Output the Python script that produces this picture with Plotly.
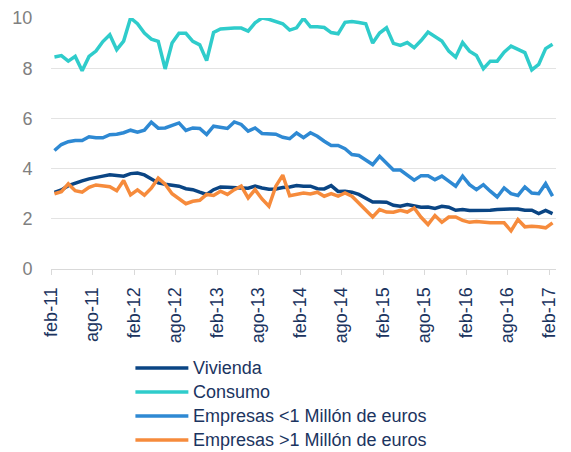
import plotly.graph_objects as go

# monthly series feb-11 .. feb-17 (73 months)
vivienda = [3.05, 3.15, 3.32, 3.43, 3.51, 3.59, 3.66, 3.70, 3.75, 3.74, 3.70, 3.80, 3.82, 3.75, 3.57, 3.43, 3.38, 3.33,
            3.30, 3.20, 3.16, 3.06, 2.97, 3.16, 3.27, 3.26, 3.23, 3.23, 3.22, 3.30, 3.23, 3.18, 3.19, 3.25, 3.27, 3.33,
            3.30, 3.30, 3.20, 3.19, 3.32, 3.09, 3.10, 3.06, 2.97, 2.82, 2.67, 2.67, 2.66, 2.54, 2.50, 2.57, 2.53, 2.46,
            2.47, 2.41, 2.50, 2.46, 2.34, 2.37, 2.33, 2.33, 2.33, 2.34, 2.37, 2.39, 2.39, 2.39, 2.34, 2.34, 2.21, 2.33, 2.21]
consumo = [8.45, 8.50, 8.28, 8.47, 7.90, 8.47, 8.68, 9.06, 9.33, 8.74, 9.08, 10.0, 9.77, 9.40, 9.16, 9.07, 7.97, 9.00,
           9.39, 9.39, 9.07, 8.93, 8.30, 9.42, 9.56, 9.59, 9.60, 9.60, 9.48, 9.81, 10.0, 9.95, 9.86, 9.77, 9.52, 9.61,
           9.99, 9.65, 9.65, 9.62, 9.42, 9.37, 9.83, 9.86, 9.82, 9.77, 9.00, 9.40, 9.61, 8.99, 8.91, 9.02, 8.82, 9.10,
           9.44, 9.26, 9.08, 8.68, 8.44, 9.02, 8.68, 8.51, 7.98, 8.28, 8.28, 8.64, 8.88, 8.75, 8.62, 7.93, 8.15, 8.78, 8.95]
empresas_menor = [4.72, 4.96, 5.07, 5.12, 5.12, 5.27, 5.23, 5.23, 5.35, 5.37, 5.43, 5.53, 5.45, 5.53, 5.85, 5.61, 5.62, 5.72,
                  5.82, 5.52, 5.62, 5.60, 5.36, 5.69, 5.66, 5.60, 5.86, 5.76, 5.49, 5.62, 5.40, 5.37, 5.37, 5.25, 5.19, 5.42,
                  5.23, 5.43, 5.29, 5.09, 4.92, 4.92, 4.79, 4.56, 4.52, 4.34, 4.16, 4.49, 4.20, 3.94, 3.94, 3.76, 3.54, 3.72,
                  3.72, 3.56, 3.70, 3.50, 3.30, 3.70, 3.36, 3.16, 3.36, 3.10, 2.87, 3.23, 3.00, 2.93, 3.27, 3.03, 3.00, 3.40, 2.90]
empresas_mayor = [3.00, 3.08, 3.39, 3.12, 3.06, 3.25, 3.35, 3.30, 3.28, 3.12, 3.53, 2.95, 3.15, 2.94, 3.22, 3.62, 3.38, 3.00,
                  2.78, 2.60, 2.70, 2.74, 2.97, 2.93, 3.10, 2.97, 3.16, 3.30, 2.83, 3.16, 2.79, 2.50, 3.30, 3.74, 2.92, 2.97,
                  3.03, 2.99, 3.06, 2.90, 3.00, 2.90, 3.03, 2.90, 2.61, 2.37, 2.07, 2.37, 2.27, 2.26, 2.34, 2.27, 2.43, 2.06,
                  1.77, 2.13, 1.86, 2.07, 2.07, 1.94, 1.86, 1.89, 1.86, 1.84, 1.84, 1.84, 1.52, 1.97, 1.68, 1.70, 1.68, 1.64, 1.84]

tick_labels = ["feb-11", "ago-11", "feb-12", "ago-12", "feb-13", "ago-13", "feb-14",
               "ago-14", "feb-15", "ago-15", "feb-16", "ago-16", "feb-17"]

series_names = ["Vivienda", "Consumo", "Empresas <1 Millón de euros", "Empresas >1 Millón de euros"]
series_values = [vivienda, consumo, empresas_menor, empresas_mayor]
series_colors = ["#0A4584", "#2FCCCB", "#2E89D3", "#F68B3C"]

# the page body has an 8px margin, so the figure is drawn 8px smaller/offset
OFF = 8
W, H = 571 - OFF, 452 - OFF
L, R, T, B = 50.5 - OFF, 15, 18 - OFF, 183
PW, PH = W - L - R, H - T - B

n = len(consumo)
x = [i + 0.5 for i in range(n)]
tickvals = [6 * k for k in range(len(tick_labels))]

fig = go.Figure()
for name, vals, color in zip(series_names, series_values, series_colors):
    fig.add_trace(go.Scatter(x=x, y=vals, name=name, mode="lines",
                             line=dict(color=color, width=3.5), showlegend=False))

# legend below the plot (line sample + label per series), page-pixel positions
def px_x(px):
    return (px - OFF - L) / PW

def px_y(py):
    return (H - B - (py - OFF)) / PH

shapes, annotations = [], []
for k, (name, color) in enumerate(zip(series_names, series_colors)):
    yc = 368 + 24 * k
    shapes.append(dict(type="line", xref="paper", yref="paper",
                       x0=px_x(135), x1=px_x(188), y0=px_y(yc), y1=px_y(yc),
                       line=dict(color=color, width=3.5)))
    annotations.append(dict(xref="paper", yref="paper", x=px_x(191), y=px_y(yc),
                            xanchor="left", yanchor="middle", showarrow=False,
                            text=name, font=dict(size=18, color="#1B3460")))

fig.update_layout(
    width=W, height=H,
    margin=dict(l=L, r=R, t=T, b=B, autoexpand=False),
    paper_bgcolor="white", plot_bgcolor="white",
    font=dict(family="Liberation Sans, Arial, sans-serif", size=18, color="#808080"),
    showlegend=False,
    shapes=shapes, annotations=annotations,
)
fig.update_xaxes(
    range=[0, n], tickmode="array", tickvals=tickvals, ticktext=tick_labels,
    tickangle=-90, tickfont=dict(size=18, color="#1B3460"),
    showgrid=False, zeroline=False,
    showline=True, linecolor="#D9D9D9", linewidth=1,
    ticks="outside", ticklen=5, tickcolor="#D9D9D9",
    ticklabelstandoff=5,
)
fig.update_yaxes(
    range=[0, 10], dtick=2, tickfont=dict(size=18, color="#808080"),
    showgrid=True, gridcolor="#E3E3E3", gridwidth=1,
    zeroline=False, showline=False,
    ticks="outside", ticklen=10, tickcolor="rgba(0,0,0,0)",
    ticklabelstandoff=4,
)

fig.write_html("out.html")
